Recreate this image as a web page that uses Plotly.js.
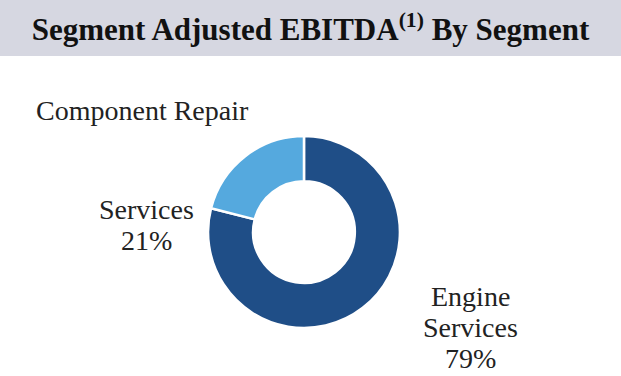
<!DOCTYPE html>
<html><head><meta charset="utf-8">
<script src="https://cdn.plot.ly/plotly-3.0.1.min.js"></script>
<style>html,body{margin:0;padding:0;background:#fff}#c{width:621px;height:376px}</style>
</head><body><div id="c"></div>
<script>
const segments = ["Engine Services", "Component Repair Services"];
const shares = [79, 21];
const colors = ["#1f4e87", "#55a9de"];
const labelLines = [["Engine", "Services"], ["Component Repair", "Services"]];

const fontFam = "Liberation Serif";
const trace = {
  type: "pie", hole: 0.53, values: shares, labels: segments,
  sort: false, direction: "clockwise", rotation: 0,
  marker: {colors: colors, line: {color: "#ffffff", width: 2.5}},
  textinfo: "none", hoverinfo: "label+percent", showlegend: false,
  domain: {x: [0.335, 0.644], y: [0.1277, 0.638]}
};
const ann = [
  {x: 470/621, y: 1-296/376, text: labelLines[0][0]},
  {x: 470/621, y: 1-327/376, text: labelLines[0][1]},
  {x: 470/621, y: 1-358/376, text: shares[0] + "%"},
  {x: 142/621, y: 1-110/376, text: labelLines[1][0]},
  {x: 146/621, y: 1-209/376, text: labelLines[1][1]},
  {x: 146/621, y: 1-240/376, text: shares[1] + "%"}
].map(a => Object.assign({xref: "paper", yref: "paper", xanchor: "center", yanchor: "middle",
  showarrow: false, font: {family: fontFam, size: 28, color: "#222"}}, a));

const layout = {
  width: 621, height: 376, margin: {l: 0, r: 0, t: 0, b: 0},
  paper_bgcolor: "#fff",
  font: {family: fontFam},
  title: {text: "Segment Adjusted EBITDA<sup>(1)</sup> By Segment", x: 0.5, xanchor: "center",
    y: 1-29/376, yanchor: "middle", yref: "paper",
    font: {family: fontFam, size: 31, color: "#111", weight: "bold"}},
  shapes: [{type: "rect", xref: "paper", yref: "paper", x0: 0, x1: 1, y0: 1-56/376, y1: 1,
    fillcolor: "#d6d7e1", line: {width: 0}, layer: "below"}],
  annotations: ann
};
Plotly.newPlot("c", [trace], layout, {displayModeBar: false, staticPlot: true});
</script></body></html>
